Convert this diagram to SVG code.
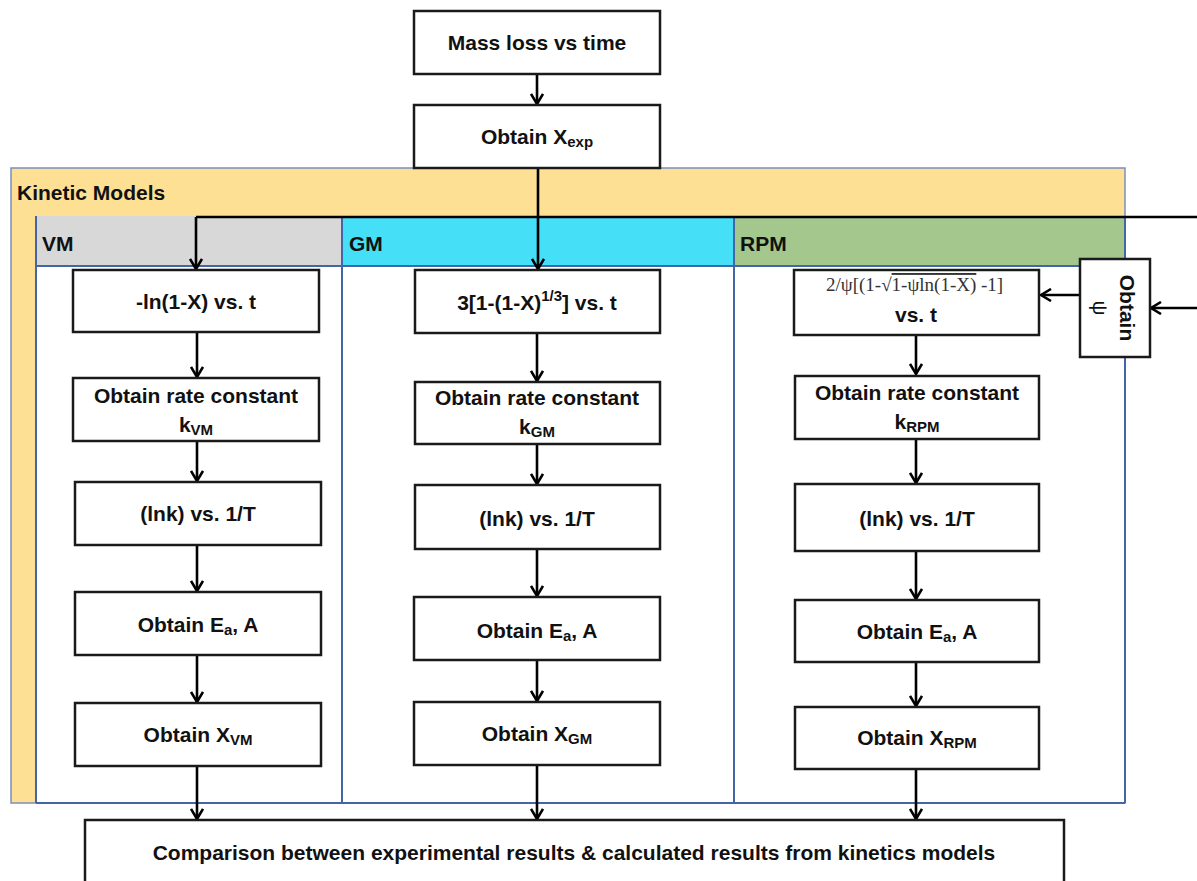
<svg xmlns="http://www.w3.org/2000/svg" width="1197" height="881" viewBox="0 0 1197 881">
<defs>
<marker id="arr" viewBox="0 0 14 14" refX="12" refY="7" markerWidth="14" markerHeight="14" markerUnits="userSpaceOnUse" orient="auto">
<polyline points="2,1 12,7 2,13" fill="none" stroke="#000" stroke-width="2.6"/>
</marker>
<style>
.box{fill:#fff;stroke:#1a1a1a;stroke-width:2.5}
.t{font-family:"Liberation Sans",Arial,sans-serif;font-weight:bold;font-size:21px;fill:#111;text-anchor:middle}
.h{font-family:"Liberation Sans",Arial,sans-serif;font-weight:bold;font-size:21px;fill:#111}
.sub{font-size:15px}
.col{stroke:#4566a6;stroke-width:2}
.c{fill:none;stroke:#000;stroke-width:2.6;marker-end:url(#arr)}
.f{font-family:"Liberation Serif","Times New Roman",serif;font-size:19px;fill:#333}
</style>
</defs>
<rect width="1197" height="881" fill="#fff"/>
<g id="frame">
<rect x="11" y="168" width="1114" height="635" fill="#fee095" stroke="#7a8fc0" stroke-width="1.5"/>
<text class="h" x="17" y="200">Kinetic Models</text>
<rect x="36" y="216" width="306" height="50" fill="#d8d8d8"/>
<rect x="342" y="216" width="392" height="50" fill="#45e0f8"/>
<rect x="734" y="216" width="391" height="50" fill="#a3c78c"/>
<rect x="36" y="266" width="1089" height="537" fill="#fff"/>
<line class="col" x1="36" y1="216" x2="36" y2="803"/>
<line class="col" x1="342" y1="216" x2="342" y2="803"/>
<line class="col" x1="734" y1="216" x2="734" y2="803"/>
<line class="col" x1="1125" y1="216" x2="1125" y2="803"/>
<line class="col" x1="36" y1="266" x2="1125" y2="266"/>
<line class="col" x1="36" y1="803" x2="1125" y2="803"/>
<text class="h" x="42" y="251">VM</text>
<text class="h" x="349" y="251">GM</text>
<text class="h" x="740" y="251">RPM</text>
</g>
<g id="connectors">
<line class="c" x1="537" y1="74" x2="537" y2="104"/>
<line class="c" x1="538" y1="168" x2="538" y2="269"/>
<line x1="196" y1="217" x2="1197" y2="217" stroke="#000" stroke-width="2.6"/>
<line class="c" x1="196" y1="217" x2="196" y2="269"/>
<line class="c" x1="1197" y1="308" x2="1151" y2="308"/>
<line class="c" x1="1080" y1="295" x2="1041" y2="295"/>
<line class="c" x1="197" y1="332" x2="197" y2="377"/>
<line class="c" x1="197" y1="441" x2="197" y2="481"/>
<line class="c" x1="197" y1="545" x2="197" y2="591"/>
<line class="c" x1="197" y1="655" x2="197" y2="702"/>
<line class="c" x1="197" y1="766" x2="197" y2="819"/>
<line class="c" x1="537" y1="333" x2="537" y2="381"/>
<line class="c" x1="537" y1="444" x2="537" y2="484"/>
<line class="c" x1="537" y1="549" x2="537" y2="596"/>
<line class="c" x1="537" y1="660" x2="537" y2="701"/>
<line class="c" x1="537" y1="765" x2="537" y2="819"/>
<line class="c" x1="916" y1="335" x2="916" y2="374"/>
<line class="c" x1="916" y1="439" x2="916" y2="483"/>
<line class="c" x1="916" y1="551" x2="916" y2="599"/>
<line class="c" x1="916" y1="662" x2="916" y2="706"/>
<line class="c" x1="916" y1="769" x2="916" y2="819"/>
</g>
<g id="mass-loss"><rect class="box" x="414" y="11" width="246" height="63"/><text class="t" x="537" y="50">Mass loss vs time</text></g>
<g id="obtain-xexp"><rect class="box" x="414" y="105" width="246" height="63"/><text class="t" x="537" y="144">Obtain X<tspan class="sub" dy="3">exp</tspan></text></g>

<g id="vm1"><rect class="box" x="73" y="270" width="246" height="62"/><text class="t" x="196" y="309">-ln(1-X) vs. t</text></g>
<g id="vm2"><rect class="box" x="73" y="378" width="246" height="63"/><text class="t" x="196" y="403">Obtain rate constant</text><text class="t" x="196" y="432">k<tspan class="sub" dy="3">VM</tspan></text></g>
<g id="vm3"><rect class="box" x="75" y="482" width="246" height="63"/><text class="t" x="198" y="521">(lnk) vs. 1/T</text></g>
<g id="vm4"><rect class="box" x="75" y="592" width="246" height="63"/><text class="t" x="198" y="632">Obtain E<tspan class="sub" dy="3">a</tspan><tspan dy="-3">, A</tspan></text></g>
<g id="vm5"><rect class="box" x="75" y="703" width="246" height="63"/><text class="t" x="198" y="742">Obtain X<tspan class="sub" dy="3">VM</tspan></text></g>

<g id="gm1"><rect class="box" x="415" y="270" width="245" height="63"/><text class="t" x="537" y="310">3[1-(1-X)<tspan class="sub" dy="-9">1/3</tspan><tspan dy="9">] vs. t</tspan></text></g>
<g id="gm2"><rect class="box" x="415" y="382" width="245" height="62"/><text class="t" x="537" y="405">Obtain rate constant</text><text class="t" x="537" y="434">k<tspan class="sub" dy="3">GM</tspan></text></g>
<g id="gm3"><rect class="box" x="415" y="485" width="245" height="64"/><text class="t" x="537" y="526">(lnk) vs. 1/T</text></g>
<g id="gm4"><rect class="box" x="414" y="597" width="246" height="63"/><text class="t" x="537" y="638">Obtain E<tspan class="sub" dy="3">a</tspan><tspan dy="-3">, A</tspan></text></g>
<g id="gm5"><rect class="box" x="414" y="702" width="246" height="63"/><text class="t" x="537" y="741">Obtain X<tspan class="sub" dy="3">GM</tspan></text></g>

<g id="rpm1"><rect class="box" x="794" y="270" width="245" height="65"/>
<text class="f" x="826" y="291">2/ψ[(1-√<tspan style="text-decoration:overline">1-ψln(1-X)</tspan> -1]</text>
<text class="t" x="916" y="322">vs. t</text></g>
<g id="rpm2"><rect class="box" x="795" y="376" width="244" height="63"/><text class="t" x="917" y="400">Obtain rate constant</text><text class="t" x="917" y="429">k<tspan class="sub" dy="3">RPM</tspan></text></g>
<g id="rpm3"><rect class="box" x="795" y="484" width="244" height="67"/><text class="t" x="917" y="526">(lnk) vs. 1/T</text></g>
<g id="rpm4"><rect class="box" x="795" y="600" width="244" height="62"/><text class="t" x="917" y="639">Obtain E<tspan class="sub" dy="3">a</tspan><tspan dy="-3">, A</tspan></text></g>
<g id="rpm5"><rect class="box" x="795" y="707" width="244" height="62"/><text class="t" x="917" y="745">Obtain X<tspan class="sub" dy="3">RPM</tspan></text></g>

<g id="obtain-psi"><rect class="box" x="1080" y="259" width="70" height="98"/>
<g transform="translate(1115,308) rotate(90)"><text class="t" x="0" y="-5">Obtain</text><text class="t" x="0" y="22" style="font-weight:normal">ψ</text></g></g>

<g id="comparison"><rect class="box" x="85" y="820" width="979" height="70"/><text class="t" x="574" y="860">Comparison between experimental results &amp; calculated results from kinetics models</text></g>
</svg>
